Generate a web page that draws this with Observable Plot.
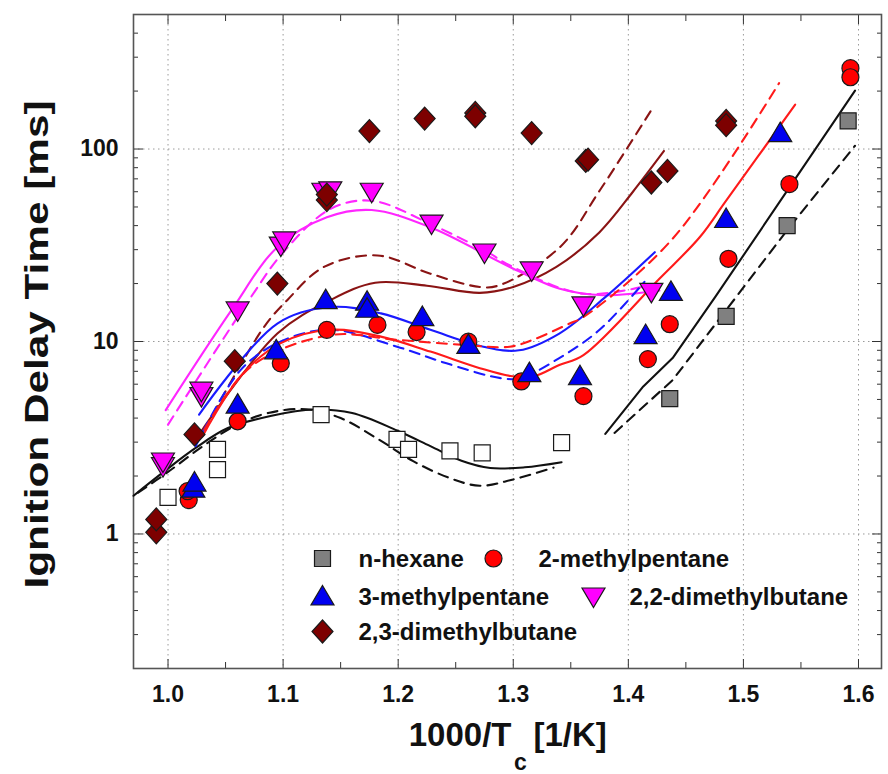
<!DOCTYPE html>
<html>
<head>
<meta charset="utf-8">
<script src="https://cdn.jsdelivr.net/npm/d3@7"></script>
<script src="https://cdn.jsdelivr.net/npm/@observablehq/plot@0.6"></script>
<style>
  html, body { margin: 0; padding: 0; background: #fff; }
  #chart { width: 888px; height: 774px; }
</style>
</head>
<body>
<div id="chart"></div>
<script>
// ---------- Axis ticks ----------
const xMajorTicks = [1.0, 1.1, 1.2, 1.3, 1.4, 1.5, 1.6];
const xMinorTicks = [1.05, 1.15, 1.25, 1.35, 1.45, 1.55];
const yMajorTicks = [1, 10, 100];
const yMinorTicks = [0.3, 0.4, 0.5, 0.6, 0.7, 0.8, 0.9, 2, 3, 4, 5, 6, 7, 8, 9, 20, 30, 40, 50, 60, 70, 80, 90, 200, 300, 400];

// ---------- Measured data ----------
// n-hexane (open squares, high-T set)
const hexOpenX = [1.0, 1.043, 1.043, 1.133, 1.199, 1.209, 1.245, 1.273, 1.342];
const hexOpenY = [1.55, 2.75, 2.16, 4.17, 3.1, 2.75, 2.7, 2.64, 2.98];
// n-hexane (filled squares, low-T set)
const hexX = [1.436, 1.485, 1.538, 1.591];
const hexY = [5.05, 13.5, 40, 140];
// 2-methylpentane
const mp2X = [1.018, 1.017, 1.0605, 1.098, 1.138, 1.182, 1.216, 1.261, 1.307, 1.361, 1.417, 1.436, 1.487, 1.54, 1.593, 1.593];
const mp2Y = [1.5, 1.67, 3.85, 7.7, 11.5, 12.2, 11.2, 9.98, 6.2, 5.2, 8.1, 12.3, 26.9, 65.7, 263, 236];
// 3-methylpentane
const mp3X = [1.022, 1.023, 1.0605, 1.094, 1.137, 1.173, 1.173, 1.221, 1.261, 1.314, 1.358, 1.415, 1.437, 1.485, 1.532];
const mp3Y = [1.72, 1.85, 4.7, 9.0, 16.4, 16.1, 14.8, 13.4, 9.6, 6.85, 6.6, 10.8, 18.1, 43.3, 121];
// 2,2-dimethylbutane
const dmb22X = [0.9956, 0.9956, 1.029, 1.029, 1.0605, 1.098, 1.101, 1.135, 1.141, 1.177, 1.229, 1.275, 1.316, 1.361, 1.42];
const dmb22Y = [2.25, 2.38, 5.2, 5.55, 14.5, 31.5, 33.5, 60, 61, 60, 41, 29, 23.4, 15.4, 18.1];
// 2,3-dimethylbutane
const dmb23X = [0.9898, 0.9898, 1.023, 1.058, 1.095, 1.138, 1.138, 1.175, 1.223, 1.267, 1.267, 1.316, 1.363, 1.365, 1.42, 1.434, 1.485, 1.485];
const dmb23Y = [1.02, 1.19, 3.29, 7.9, 20, 54.3, 58, 124, 144, 154, 148, 121, 86.7, 88, 67, 77, 140, 133];

// ---------- Simulations (solid / dashed) ----------
const simHexHiSolidX = [0.970, 0.997, 1.024, 1.052, 1.089, 1.127, 1.16, 1.199, 1.228, 1.255, 1.28, 1.31, 1.342];
const simHexHiSolidY = [1.58, 2.12, 2.80, 3.55, 4.1, 4.43, 4.25, 3.45, 2.86, 2.4, 2.2, 2.22, 2.36];
const simHexHiDashX = [0.974, 1.0, 1.03, 1.06, 1.087, 1.12, 1.15, 1.183, 1.213, 1.245, 1.271, 1.30, 1.335];
const simHexHiDashY = [1.64, 2.1, 2.85, 3.7, 4.25, 4.45, 4.0, 3.1, 2.39, 1.95, 1.78, 1.92, 2.21];
const simHexLoSolidX = [1.380, 1.413, 1.4385, 1.476, 1.597];
const simHexLoSolidY = [3.31, 5.84, 8.2, 17.2, 201];
const simHexLoDashX = [1.388, 1.4385, 1.54, 1.597];
const simHexLoDashY = [3.35, 6.3, 39.2, 104];

const simMp2SolidX = [1.030, 1.063, 1.098, 1.141, 1.185, 1.228, 1.271, 1.297, 1.317, 1.34, 1.361, 1.427, 1.462, 1.485, 1.545];
const simMp2SolidY = [3.22, 6.6, 9.8, 11.5, 10.6, 8.86, 7.27, 6.63, 6.57, 7.55, 8.5, 21.2, 34.8, 53.9, 170];
const simMp2DashX = [1.0316, 1.072, 1.141, 1.199, 1.257, 1.297, 1.317, 1.349, 1.361, 1.4385, 1.531];
const simMp2DashY = [3.48, 7.4, 10.8, 10.2, 9.6, 9.4, 10.2, 12.4, 13.4, 34.2, 220];

const simMp3SolidX = [1.027, 1.095, 1.141, 1.185, 1.228, 1.274, 1.305, 1.34, 1.38, 1.423];
const simMp3SolidY = [4.17, 12.4, 15.1, 14, 11.5, 9.4, 9.0, 11, 17, 29.1];
const simMp3DashX = [1.024, 1.063, 1.098, 1.141, 1.199, 1.242, 1.289, 1.306, 1.34, 1.375, 1.414];
const simMp3DashY = [2.86, 7.1, 10, 11.5, 9.4, 7.7, 6.45, 6.45, 8.2, 11.5, 20.4];

const simDmb22SolidX = [0.998, 1.055, 1.095, 1.138, 1.177, 1.228, 1.297, 1.3405, 1.378, 1.427];
const simDmb22SolidY = [4.4, 14.5, 30.9, 44.2, 48.2, 39.2, 24.4, 18.8, 17.4, 18.4];
const simDmb22DashX = [1.0, 1.072, 1.1, 1.141, 1.177, 1.228, 1.28, 1.294, 1.361, 1.424];
const simDmb22DashY = [3.7, 17, 29, 48.8, 53.9, 40.8, 28.6, 25.4, 17.7, 20];

const simDmb23SolidX = [1.026, 1.095, 1.141, 1.18, 1.225, 1.271, 1.30, 1.3375, 1.375, 1.404, 1.431];
const simDmb23SolidY = [3.22, 11, 16.4, 20.2, 19.5, 17.9, 19.2, 24.4, 37, 60, 97.7];
const simDmb23DashX = [1.0315, 1.083, 1.104, 1.1355, 1.182, 1.228, 1.271, 1.288, 1.3405, 1.375, 1.421];
const simDmb23DashY = [3.48, 11.8, 16.5, 24.4, 28, 22.5, 19.2, 19.6, 30.9, 60.7, 163];

// ---------- Legend ----------
const legendNames = ["n-hexane", "2-methylpentane", "3-methylpentane", "2,2-dimethylbutane", "2,3-dimethylbutane"];

// ---------- Styling ----------
const cBlack = "#111111", cRed = "#ff0000", cBlue = "#0000f0", cMag = "#ff00ff", cDark = "#7d0000", cGray = "#808080";
const lineRed = "#ff1a1a", lineBlue = "#1a1aff", lineMag = "#ff26ff", lineDark = "#8a1414";

const symSquare = {draw(ctx) { ctx.rect(-8, -8, 16, 16); }};
const symCircle = {draw(ctx) { ctx.moveTo(8.5, 0); ctx.arc(0, 0, 8.5, 0, 2 * Math.PI); }};
const symTriUp = {draw(ctx) { ctx.moveTo(0, -11); ctx.lineTo(11.5, 8.5); ctx.lineTo(-11.5, 8.5); ctx.closePath(); }};
const symTriDown = {draw(ctx) { ctx.moveTo(0, 11); ctx.lineTo(11.5, -8.5); ctx.lineTo(-11.5, -8.5); ctx.closePath(); }};
const symDiamond = {draw(ctx) { ctx.moveTo(0, -11.5); ctx.lineTo(10.5, 0); ctx.lineTo(0, 11.5); ctx.lineTo(-10.5, 0); ctx.closePath(); }};

const rows = (xs, ys) => xs.map((x, i) => ({x, y: ys[i]}));
const dash = "10,7";

const simLine = (xs, ys, stroke, dashed, curve = "catmull-rom") =>
  Plot.line(rows(xs, ys), {x: "x", y: "y", stroke, strokeWidth: 2.1, curve,
    strokeDasharray: dashed ? dash : null});

const dots = (xs, ys, symbol, fill) =>
  Plot.dot(rows(xs, ys), {x: "x", y: "y", symbol, fill, stroke: "#1a1a1a", strokeWidth: 1.2});

const legendSyms = [symSquare, symCircle, symTriUp, symTriDown, symDiamond];
const legendFills = [cGray, cRed, cBlue, cMag, cDark];
// pixel offsets from the frame's top-left corner
const legendDx = [189, 360, 189, 460, 189];
const legendDy = [544, 544, 582, 582, 617];
const legendTextDx = [225, 405, 225, 496, 225];

const legendMarks = legendNames.flatMap((name, i) => [
  Plot.dot([name], {frameAnchor: "top-left", dx: legendDx[i], dy: legendDy[i],
    symbol: legendSyms[i], fill: legendFills[i], stroke: "#1a1a1a", strokeWidth: 1.2}),
  Plot.text([name], {frameAnchor: "top-left", dx: legendTextDx[i], dy: legendDy[i] + 1,
    text: d => d, textAnchor: "start", lineAnchor: "middle",
    fontSize: 24, fontWeight: "bold", fill: "#111"})
]);

const gridStyle = {stroke: "#9a9a9a", strokeOpacity: 1, strokeWidth: 1, strokeDasharray: "1.5,3.5"};
const tickOpts = (anchor, size) => ({anchor, tickSize: size, tickFormat: () => "", stroke: "#333", label: null});

const chart = Plot.plot({
  width: 888,
  height: 774,
  marginLeft: 133,
  marginRight: 7,
  marginTop: 14,
  marginBottom: 106,
  style: {fontFamily: "'Liberation Sans', Arial, sans-serif", background: "#fff", color: "#111"},
  x: {domain: [0.97, 1.62]},
  y: {type: "log", domain: [0.2, 500]},
  marks: [
    Plot.gridX(xMajorTicks, gridStyle),
    Plot.gridY(yMajorTicks, gridStyle),
    // tick marks (inward)
    Plot.axisX(xMajorTicks, tickOpts("bottom", -9)),
    Plot.axisX(xMinorTicks, tickOpts("bottom", -6)),
    Plot.axisX(xMajorTicks, tickOpts("top", -9)),
    Plot.axisX(xMinorTicks, tickOpts("top", -6)),
    Plot.axisY(yMajorTicks, tickOpts("left", -10)),
    Plot.axisY(yMinorTicks, tickOpts("left", -5)),
    Plot.axisY(yMajorTicks, tickOpts("right", -10)),
    Plot.axisY(yMinorTicks, tickOpts("right", -5)),
    // tick labels
    Plot.axisX(xMajorTicks, {anchor: "bottom", tickSize: 0, tickPadding: 17, tickFormat: d3.format(".1f"),
      fontSize: 23, fontWeight: "bold", label: null}),
    Plot.axisY(yMajorTicks, {anchor: "left", tickSize: 0, tickPadding: 15, tickFormat: d => String(d),
      fontSize: 23, fontWeight: "bold", label: null}),
    Plot.frame({stroke: "#555", strokeWidth: 1.6}),
    // simulations
    simLine(simHexHiSolidX, simHexHiSolidY, cBlack, false),
    simLine(simHexHiDashX, simHexHiDashY, cBlack, true),
    simLine(simHexLoSolidX, simHexLoSolidY, cBlack, false, "linear"),
    simLine(simHexLoDashX, simHexLoDashY, cBlack, true, "linear"),
    simLine(simDmb23SolidX, simDmb23SolidY, lineDark, false),
    simLine(simDmb23DashX, simDmb23DashY, lineDark, true),
    simLine(simDmb22SolidX, simDmb22SolidY, lineMag, false),
    simLine(simDmb22DashX, simDmb22DashY, lineMag, true),
    simLine(simMp3SolidX, simMp3SolidY, lineBlue, false),
    simLine(simMp3DashX, simMp3DashY, lineBlue, true),
    simLine(simMp2SolidX, simMp2SolidY, lineRed, false),
    simLine(simMp2DashX, simMp2DashY, lineRed, true),
    // experiments
    dots(hexOpenX, hexOpenY, symSquare, "#fff"),
    dots(hexX, hexY, symSquare, cGray),
    dots(mp2X, mp2Y, symCircle, cRed),
    dots(mp3X, mp3Y, symTriUp, cBlue),
    dots(dmb22X, dmb22Y, symTriDown, cMag),
    dots(dmb23X, dmb23Y, symDiamond, cDark),
    // legend
    ...legendMarks,
    // axis titles
    Plot.text(["Ignition Delay Time [ms]"], {frameAnchor: "bottom-left", dx: -96, dy: -80, rotate: -90, text: d => d,
      textAnchor: "start", fontSize: 33, fontWeight: "bold", fill: "#111", lineAnchor: "middle"}),
    Plot.text(["1000/T"], {frameAnchor: "bottom-left", dx: 378, dy: 77, text: d => d,
      textAnchor: "end", lineAnchor: "bottom", fontSize: 33, fontWeight: "bold", fill: "#111"}),
    Plot.text(["c"], {frameAnchor: "bottom-left", dx: 387, dy: 101, text: d => d,
      textAnchor: "middle", lineAnchor: "bottom", fontSize: 23, fontWeight: "bold", fill: "#111"}),
    Plot.text(["[1/K]"], {frameAnchor: "bottom-left", dx: 400, dy: 77, text: d => d,
      textAnchor: "start", lineAnchor: "bottom", fontSize: 33, fontWeight: "bold", fill: "#111"})
  ]
});

document.getElementById("chart").appendChild(chart);

// stretch the rotated y title to the reference length
d3.select(chart).selectAll("text").filter(function () { return this.textContent === "Ignition Delay Time [ms]"; })
  .attr("textLength", 488).attr("lengthAdjust", "spacingAndGlyphs");
</script>
</body>
</html>
